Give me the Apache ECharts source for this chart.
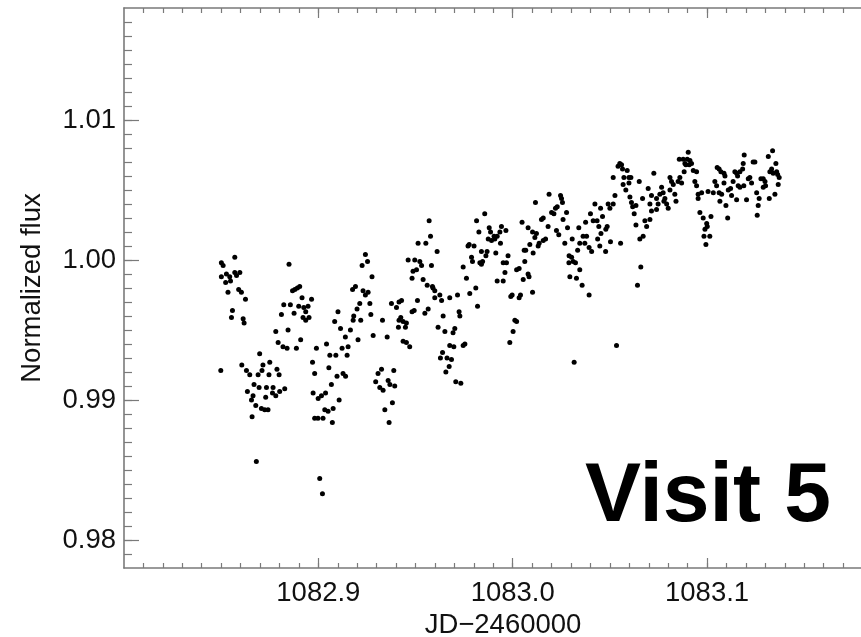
<!DOCTYPE html>
<html><head><meta charset="utf-8">
<script src="https://cdn.jsdelivr.net/npm/echarts@6/dist/echarts.min.js"></script>
<style>html,body{margin:0;padding:0;background:#fff}#c{width:861px;height:637px}</style>
</head><body><div id="c"></div>
<script>
// JD-2460000
const time = [
1082.8498,1082.8501,1082.8510,1082.8501,1082.8527,1082.8544,1082.8570,1082.8570,1082.8579,1082.8596,
1082.8523,1082.8548,1082.8535,1082.8590,1082.8604,1082.8625,1082.8558,1082.8553,1082.8613,1082.8618,
1082.8606,1082.8630,1082.8647,1082.8690,1082.8698,1082.8715,1082.8750,1082.8710,1082.8746,1082.8787,
1082.8798,1082.8669,1082.8695,1082.8733,1082.8767,1082.8827,1082.8635,1082.8664,1082.8729,1082.8764,
1082.8801,1082.8781,1082.8656,1082.8678,1082.8707,1082.8724,1082.8741,1082.8659,1082.8681,
1082.8781,1082.8844,1082.8793,1082.8818,1082.8839,1082.8887,1082.8909,1082.8810,1082.8822,1082.8856,
1082.8875,1082.8899,1082.8916,1082.8965,1082.8925,1082.8947,1082.8935,1082.8921,1082.8935,1082.8952,
1082.8867,1082.8879,1082.8892,1082.8904,1082.8849,
1082.8970,1082.8981,1082.8990,1082.9042,1082.9059,1082.9090,1082.9054,1082.9096,1082.9127,1082.9140,
1082.9067,1082.8973,1082.8999,1082.9016,1082.9037,1082.9033,1082.9050,1082.9076,1082.9107,1082.8981,
1082.8998,1082.9024,1082.9072,1082.9007,1082.9021,
1082.9084,1082.9101,1082.9114,1082.9139,1082.9122,1082.9153,1082.9148,1082.9165,1082.9179,1082.9182,
1082.9204,1082.9199,1082.9213,1082.9218,1082.9176,1082.9191,1082.9230,1082.9242,1082.9256,1082.9265,
1082.9270,1082.9282,1082.9276,1082.9225,1082.9242,1082.9253,
1082.9325,1082.9307,1082.9295,1082.9316,1082.9333,1082.9359,1082.9368,1082.9393,1082.9388,1082.9381,
1082.9342,1082.9364,
1082.9330,1082.9354,1082.9376,1082.9402,1082.9415,1082.9428,1082.9424,1082.9415,1082.9436,1082.9453,
1082.9412,1082.9448,1082.9482,1082.9493,1082.9510,1082.9436,1082.9453,1082.9470,1082.9462,1082.9487,
1082.9505,1082.9482,1082.9513,1082.9496,1082.9522,1082.9531,
1082.9553,1082.9570,1082.9577,1082.9611,1082.9582,1082.9539,1082.9560,1082.9587,1082.9599,1082.9590,
1082.9599,1082.9625,1082.9634,1082.9676,1082.9716,1082.9565,1082.9548,1082.9642,1082.9616,1082.9651,
1082.9693,1082.9702,1082.9724,1082.9728,1082.9676,1082.9697,1082.9745,1082.9754,1082.9639,1082.9628,
1082.9662,1082.9685,1082.9673,1082.9656,1082.9707,1082.9733,
1082.9745,1082.9762,1082.9779,1082.9810,1082.9819,1082.9770,1082.9776,1082.9801,1082.9788,1082.9793,
1082.9831,1082.9839,1082.9845,1082.9814,1082.9826,1082.9856,1082.9839,1082.9868,1082.9862,1082.9879,
1082.9886,1082.9874,1082.9891,1082.9908,1082.9904,1082.9934,1082.9942,1082.9965,1082.9920,1082.9937,
1082.9913,1082.9951,1082.9968,1082.9976,1082.9960,1082.9951,1082.9920,1083.0020,1083.0033,1083.0062,
1083.0059,1083.0079,1083.0084,1083.0054,1083.0102,1082.9990,1082.9997,1083.0040,1083.0033,1083.0011,
1083.0020,1083.0002,1082.9985,
1083.0048,1083.0079,1083.0102,1083.0122,1083.0114,1083.0088,1083.0067,1083.0105,1083.0136,1083.0131,
1083.0157,1083.0169,1083.0182,1083.0148,1083.0157,1083.0117,1083.0187,1083.0200,1083.0212,1083.0220,
1083.0229,1083.0246,1083.0251,1083.0256,1083.0259,1083.0277,1083.0225,1083.0237,1083.0268,1083.0282,
1083.0306,1083.0290,1083.0303,1083.0311,1083.0323,1083.0289,1083.0345,1083.0294,1083.0328,1083.0357,
1083.0340,1083.0334,1083.0345,1083.0362,1083.0380,1083.0371,1083.0375,1083.0400,1083.0393,1083.0406,
1083.0423,1083.0414,1083.0434,1083.0443,1083.0454,1083.0462,1083.0452,1083.0437,1083.0448,1083.0478,
1083.0479,1083.0486,1083.0491,1083.0500,1083.0517,1083.0526,1083.0503,1083.0555,1083.0393,1083.0534,
1083.0316,
1083.0551,1083.0542,1083.0560,1083.0565,1083.0589,1083.0517,1083.0572,1083.0598,1083.0608,1083.0568,
1083.0598,1083.0582,1083.0651,1083.0697,1083.0726,1083.0603,1083.0611,1083.0617,1083.0634,1083.0625,
1083.0668,1083.0706,1083.0714,1083.0740,1083.0748,1083.0714,1083.0740,1083.0680,1083.0706,1083.0689,
1083.0634,1083.0671,1083.0654,1083.0659,1083.0642,
1083.0766,1083.0774,1083.0757,1083.0783,1083.0778,1083.0792,1083.0800,1083.0809,1083.0809,1083.0817,
1083.0826,1083.0834,1083.0840,1083.0851,1083.0860,1083.0869,1083.0857,1083.0877,1083.0886,1083.0903,
1083.0898,1083.0912,1083.0920,1083.0891,1083.0882,1083.0908,1083.0929,1083.0946,1083.0937,1083.0946,
1083.0954,1083.0954,1083.0972,1083.0963,1083.0980,1083.0998,1083.0989,1083.1020,1083.1001,1083.0984,
1083.0994,1083.1014,1083.1005,1083.1032,1083.1040,1083.1052,1083.1062,1083.1071,1083.1087,1083.1092,
1083.1049,1083.1062,1083.1066,1083.1075,1083.1087,1083.1097,1083.1106,1083.1109,1083.1121,1083.1134,
1083.1126,1083.1143,1083.1152,1083.1157,1083.1169,1083.1183,1083.1186,1083.1191,1083.1152,1083.1160,
1083.1169,1083.1189,1083.1203,1083.1212,1083.1220,1083.1229,1083.1237,1083.1246,1083.1255,1083.1268,
1083.1263,1083.1258,1083.1277,1083.1289,1083.1298,1083.1289,1083.1301,1083.1320,1083.1332,1083.1340,
1083.1323,1083.1315,1083.1337,1083.1354,1083.1358,1083.1363,1083.1371,1083.1366,1083.1349
];
// normalized flux
const flux = [
0.9921,0.9998,0.9996,0.9988,0.9990,0.9988,1.0002,0.9991,0.9989,0.9991,
0.9984,0.9985,0.9977,0.9979,0.9977,0.9972,0.9964,0.9959,0.9958,0.9955,
0.9925,0.9921,0.9918,0.9918,0.9933,0.9925,0.9927,0.9921,0.9918,0.9922,
0.9918,0.9911,0.9909,0.9909,0.9909,0.9908,0.9906,0.9903,0.9902,0.9905,
0.9906,0.9903,0.9900,0.9896,0.9894,0.9893,0.9893,0.9888,0.9856,
0.9949,0.9950,0.9941,0.9938,0.9937,0.9937,0.9943,0.9961,0.9968,0.9968,
0.9962,0.9967,0.9973,0.9972,0.9966,0.9967,0.9963,0.9959,0.9957,0.9959,
0.9978,0.9979,0.9980,0.9981,0.9997,
0.9927,0.9919,0.9937,0.9940,0.9932,0.9932,0.9923,0.9917,0.9919,0.9917,
0.9911,0.9905,0.9901,0.9903,0.9905,0.9893,0.9892,0.9894,0.9900,0.9887,
0.9887,0.9887,0.9884,0.9844,0.9833,
0.9956,0.9963,0.9951,0.9945,0.9937,0.9938,0.9932,0.9950,0.9957,0.9960,
0.9943,0.9965,0.9969,0.9957,0.9979,0.9981,0.9978,0.9975,0.9977,0.9969,
0.9961,0.9946,0.9988,0.9996,1.0004,0.9999,
0.9922,0.9919,0.9913,0.9909,0.9907,0.9914,0.9911,0.9910,0.9921,0.9898,
0.9893,0.9884,
0.9957,0.9945,0.9969,0.9966,0.9970,0.9971,0.9959,0.9957,0.9956,0.9955,
0.9952,0.9952,0.9963,0.9964,0.9971,0.9942,0.9941,0.9938,1.0000,0.9992,
0.9993,0.9987,1.0012,1.0000,0.9999,0.9996,
1.0012,1.0028,1.0017,1.0006,0.9996,0.9986,0.9982,0.9981,0.9978,0.9980,
0.9973,0.9975,0.9971,0.9973,0.9975,0.9965,0.9962,0.9960,0.9952,0.9949,
0.9948,0.9951,0.9963,0.9960,0.9939,0.9938,0.9939,0.9940,0.9934,0.9930,
0.9930,0.9929,0.9924,0.9920,0.9913,0.9912,
0.9995,0.9987,0.9976,0.9980,0.9967,1.0010,1.0011,1.0010,1.0002,0.9999,
0.9998,0.9997,0.9999,1.0028,1.0020,1.0033,1.0006,1.0006,1.0003,1.0023,
1.0020,1.0015,1.0014,1.0015,1.0017,1.0020,1.0024,1.0021,1.0017,1.0012,
1.0005,0.9998,0.9998,1.0003,0.9991,0.9985,0.9985,0.9993,0.9994,0.9999,
1.0007,0.9990,0.9988,0.9986,0.9977,0.9974,0.9975,0.9975,0.9973,0.9957,
0.9956,0.9949,0.9941,
1.0027,1.0023,1.0020,1.0019,1.0016,1.0011,1.0007,1.0005,1.0012,1.0010,
1.0014,1.0015,1.0024,1.0029,1.0030,1.0041,1.0047,1.0034,1.0033,1.0037,
1.0038,1.0046,1.0044,1.0041,1.0029,1.0034,1.0021,1.0018,1.0012,1.0023,
1.0015,1.0003,1.0002,0.9999,0.9998,0.9998,0.9993,0.9988,0.9987,0.9982,
1.0023,1.0007,1.0012,1.0017,1.0017,1.0012,1.0027,1.0033,1.0009,1.0006,
1.0040,1.0028,1.0028,1.0024,1.0019,1.0031,1.0037,1.0015,1.0010,1.0006,
1.0022,1.0024,1.0040,1.0037,1.0040,1.0046,1.0013,1.0012,0.9975,0.9939,
0.9927,
1.0069,1.0067,1.0068,1.0065,1.0064,1.0059,1.0059,1.0059,1.0059,1.0054,
1.0055,1.0050,1.0056,1.0051,1.0062,1.0045,1.0041,1.0038,1.0039,1.0033,
1.0044,1.0040,1.0046,1.0044,1.0040,1.0035,1.0036,1.0028,1.0029,1.0024,
1.0025,1.0017,1.0015,0.9995,0.9982,
1.0052,1.0048,1.0047,1.0044,1.0042,1.0040,1.0037,1.0050,1.0059,1.0056,
1.0054,1.0047,1.0042,1.0056,1.0059,1.0055,1.0072,1.0072,1.0069,1.0077,
1.0072,1.0071,1.0069,1.0068,1.0063,1.0068,1.0064,1.0063,1.0056,1.0053,
1.0047,1.0044,1.0048,1.0034,1.0030,1.0026,1.0022,1.0031,1.0024,1.0017,
1.0011,1.0017,1.0049,1.0048,1.0056,1.0066,1.0065,1.0063,1.0062,1.0060,
1.0053,1.0048,1.0042,1.0047,1.0055,1.0039,1.0030,1.0050,1.0051,1.0056,
1.0046,1.0063,1.0062,1.0060,1.0063,1.0065,1.0069,1.0075,1.0043,1.0053,
1.0052,1.0053,1.0043,1.0058,1.0059,1.0055,1.0070,1.0070,1.0048,1.0044,
1.0039,1.0032,1.0058,1.0058,1.0056,1.0052,1.0053,1.0044,1.0065,1.0062,
1.0063,1.0074,1.0078,1.0069,1.0063,1.0061,1.0059,1.0054,1.0047
];
const xRange = [1082.80, 1083.19];
const yRange = [0.978, 1.018];
const xLabelTicks = [1082.9, 1083.0, 1083.1];
const yLabelTicks = [0.98, 0.99, 1.00, 1.01];
const xTitle = 'JD\u22122460000';
const yTitle = 'Normalized flux';
const annotation = 'Visit 5';

function steps(a, b, s) {
  const out = [];
  const n = Math.round((b - a) / s);
  for (let i = 0; i <= n; i++) out.push(Math.round((a + i * s) * 1e6) / 1e6);
  return out;
}
const xMinor = steps(1082.81, 1083.18, 0.01);
const yMinor = steps(0.979, 1.017, 0.001);

const FONT = '"Liberation Sans", Helvetica, Arial, sans-serif';
const AXC = '#7a7a7a';
const n = Math.min(time.length, flux.length);
const pts = [];
for (let i = 0; i < n; i++) pts.push([time[i], flux[i]]);

const chart = echarts.init(document.getElementById('c'), null, {renderer: 'canvas'});

function xAx(pos, major, withLabel) {
  return {
    type: 'value', position: pos, min: xRange[0], max: xRange[1], scale: true,
    axisLine: {show: major, onZero: false, lineStyle: {color: AXC, width: 1.6}},
    axisTick: {show: true, inside: true, length: major ? 10 : 5,
      customValues: major ? xLabelTicks : xMinor, lineStyle: {color: AXC, width: 1.2}},
    axisLabel: withLabel ? {show: true, customValues: xLabelTicks, formatter: v => v.toFixed(1),
      fontSize: 27.5, color: '#111', fontFamily: FONT, margin: 11} : {show: false},
    splitLine: {show: false},
    name: withLabel ? xTitle : '', nameLocation: 'middle', nameGap: 40,
    nameTextStyle: {fontSize: 27.5, color: '#111', fontFamily: FONT}
  };
}
function yAx(pos, major, withLabel) {
  return {
    type: 'value', position: pos, min: yRange[0], max: yRange[1], scale: true,
    axisLine: {show: major, onZero: false, lineStyle: {color: AXC, width: 1.6}},
    axisTick: {show: true, inside: true, length: major ? 15 : 8,
      customValues: major ? yLabelTicks : yMinor, lineStyle: {color: AXC, width: 1.2}},
    axisLabel: withLabel ? {show: true, customValues: yLabelTicks, formatter: v => v.toFixed(2),
      fontSize: 27.5, color: '#111', fontFamily: FONT, margin: 8} : {show: false},
    splitLine: {show: false},
    name: withLabel ? yTitle : '', nameLocation: 'middle', nameGap: 78, nameRotate: 90,
    nameTextStyle: {fontSize: 27.5, color: '#111', fontFamily: FONT}
  };
}

chart.setOption({
  backgroundColor: '#fff',
  animation: false,
  grid: {left: 124, top: 8, width: 758, height: 560, containLabel: false, outerBoundsMode: 'none'},
  xAxis: [xAx('bottom', true, true), xAx('bottom', false, false), xAx('top', true, false), xAx('top', false, false)],
  yAxis: [yAx('left', true, true), yAx('left', false, false), yAx('right', true, false), yAx('right', false, false)],
  series: [{
    type: 'scatter', xAxisIndex: 0, yAxisIndex: 0,
    data: pts, symbol: 'circle', symbolSize: 5,
    itemStyle: {color: '#000', opacity: 1}, emphasis: {disabled: true}
  }],
  graphic: [{
    type: 'text', left: 585, top: 456,
    style: {text: annotation, font: 'bold 84px ' + FONT, fill: '#000'}
  }]
});
</script>
</body></html>
